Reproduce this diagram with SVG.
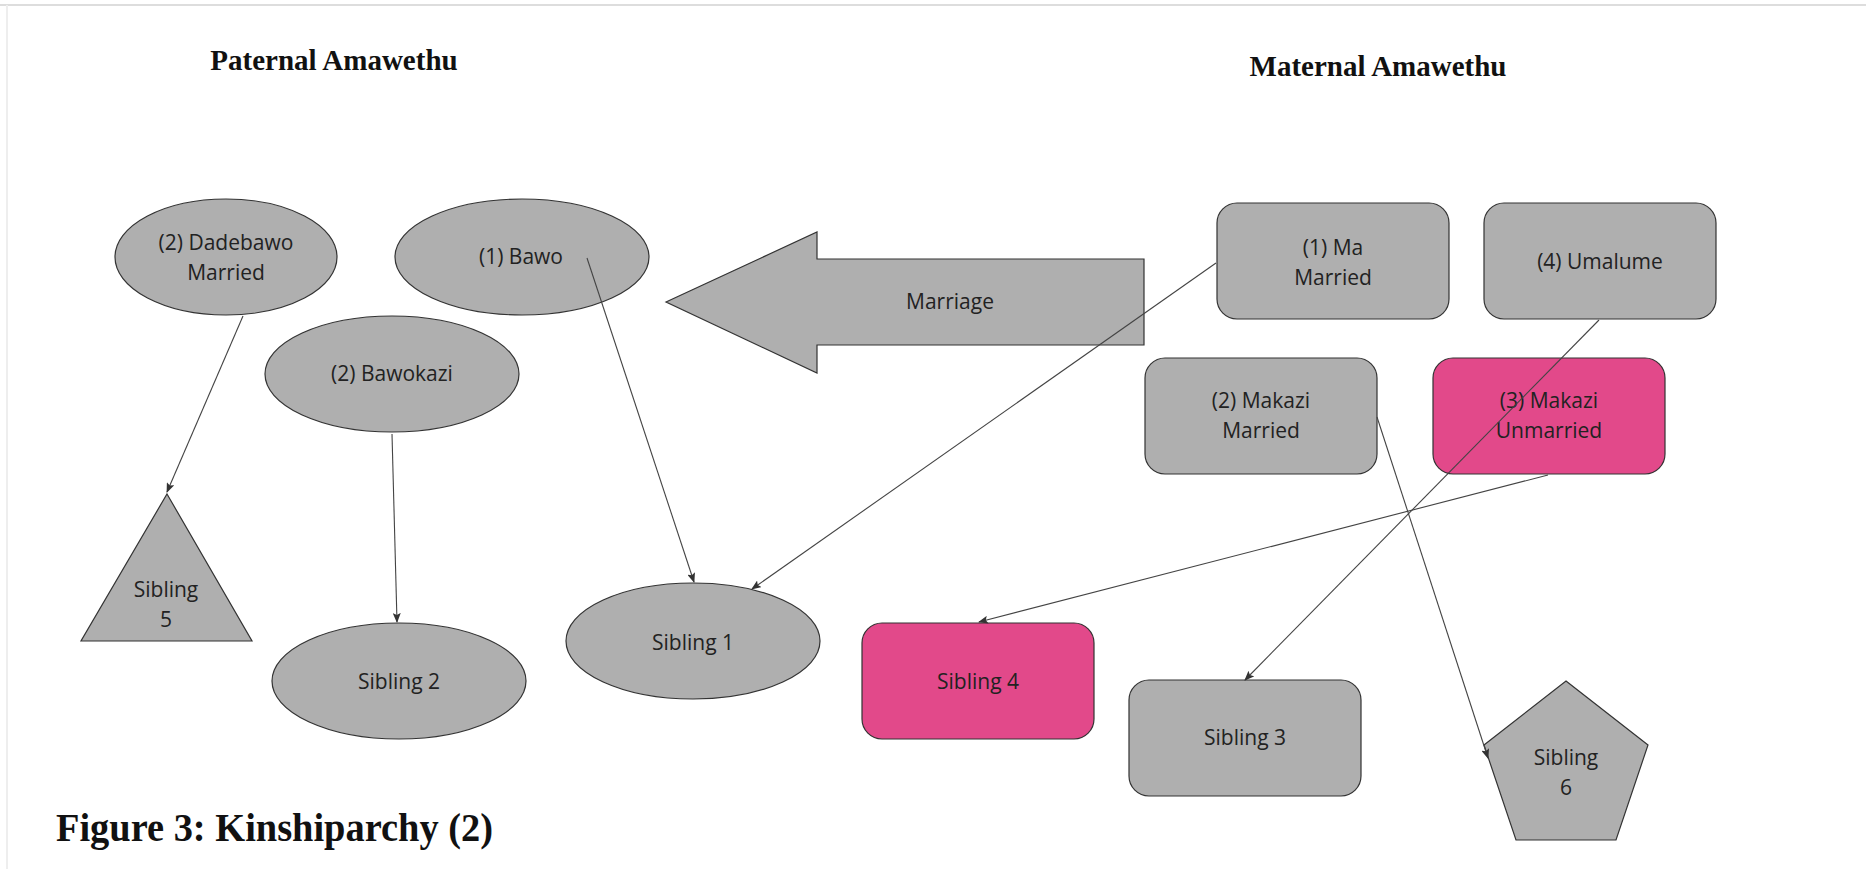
<svg xmlns="http://www.w3.org/2000/svg" width="1866" height="869" viewBox="0 0 1866 869">
<style>
.n{fill:#afafaf;stroke:#333;stroke-width:1.2}
.p{fill:#e2498a;stroke:#333;stroke-width:1.2}
.t{font-family:"Open Sans","Noto Sans",sans-serif;font-size:21px;fill:#222;text-anchor:middle}
.h{font-family:"Liberation Serif","Times New Roman",serif;font-weight:bold;fill:#111;text-anchor:middle}
.c{stroke:#444;stroke-width:1.1;fill:none;marker-end:url(#ah)}
</style>
<defs>
<marker id="ah" viewBox="0 0 10 8" refX="9" refY="4" markerWidth="10" markerHeight="8" markerUnits="userSpaceOnUse" orient="auto">
<path d="M0,0 L10,4 L0,8 L2,4 z" fill="#333"/>
</marker>
</defs>
<rect width="1866" height="869" fill="#fff"/>
<line x1="0" y1="5" x2="1866" y2="5" stroke="#ddd" stroke-width="2"/>
<line x1="7" y1="5" x2="7" y2="869" stroke="#eee" stroke-width="2"/>
<text class="h" x="334" y="70" font-size="29">Paternal Amawethu</text>
<text class="h" x="1378" y="76" font-size="29">Maternal Amawethu</text>
<text class="h" x="56" y="841" font-size="40" style="text-anchor:start" textLength="437" lengthAdjust="spacingAndGlyphs">Figure 3: Kinshiparchy (2)</text>

<g id="marriage"><path class="n" d="M666,302 L817,232 L817,259 L1144,259 L1144,345 L817,345 L817,373 Z"/><text class="t" x="950" y="309">Marriage</text></g>

<g id="dadebawo"><ellipse class="n" cx="226" cy="257" rx="111" ry="58"/><text class="t" x="226" y="250">(2) Dadebawo</text><text class="t" x="226" y="280">Married</text></g>
<g id="bawo"><ellipse class="n" cx="522" cy="257" rx="127" ry="58"/><text class="t" x="521" y="264">(1) Bawo</text></g>
<g id="bawokazi"><ellipse class="n" cx="392" cy="374" rx="127" ry="58"/><text class="t" x="392" y="381" font-size="19">(2) Bawokazi</text></g>
<g id="sibling5"><path class="n" d="M167,494 L252,641 L81,641 Z"/><text class="t" x="166" y="597">Sibling</text><text class="t" x="166" y="627">5</text></g>
<g id="sibling2"><ellipse class="n" cx="399" cy="681" rx="127" ry="58"/><text class="t" x="399" y="689">Sibling 2</text></g>
<g id="sibling1"><ellipse class="n" cx="693" cy="641" rx="127" ry="58"/><text class="t" x="693" y="650">Sibling 1</text></g>

<g id="ma"><rect class="n" x="1217" y="203" width="232" height="116" rx="20"/><text class="t" x="1333" y="255">(1) Ma</text><text class="t" x="1333" y="285">Married</text></g>
<g id="umalume"><rect class="n" x="1484" y="203" width="232" height="116" rx="20"/><text class="t" x="1600" y="269">(4) Umalume</text></g>
<g id="makazi2"><rect class="n" x="1145" y="358" width="232" height="116" rx="20"/><text class="t" x="1261" y="408">(2) Makazi</text><text class="t" x="1261" y="438">Married</text></g>
<g id="makazi3"><rect class="p" x="1433" y="358" width="232" height="116" rx="20"/><text class="t" x="1549" y="408">(3) Makazi</text><text class="t" x="1549" y="438">Unmarried</text></g>
<g id="sibling4"><rect class="p" x="862" y="623" width="232" height="116" rx="20"/><text class="t" x="978" y="689">Sibling 4</text></g>
<g id="sibling3"><rect class="n" x="1129" y="680" width="232" height="116" rx="20"/><text class="t" x="1245" y="745">Sibling 3</text></g>
<g id="sibling6"><path class="n" d="M1566,681 L1648,745 L1616,840 L1516,840 L1484,745 Z"/><text class="t" x="1566" y="765">Sibling</text><text class="t" x="1566" y="795">6</text></g>

<g id="connectors">
<line class="c" x1="243" y1="316" x2="167" y2="492"/>
<line class="c" x1="392" y1="434" x2="397" y2="622"/>
<line class="c" x1="587" y1="258" x2="694" y2="582"/>
<line class="c" x1="1216" y1="263" x2="752" y2="589"/>
<line class="c" x1="1599" y1="320" x2="1245" y2="680"/>
<line class="c" x1="1377" y1="417" x2="1488" y2="758"/>
<line class="c" x1="1548" y1="475" x2="979" y2="622"/>
</g>
</svg>
